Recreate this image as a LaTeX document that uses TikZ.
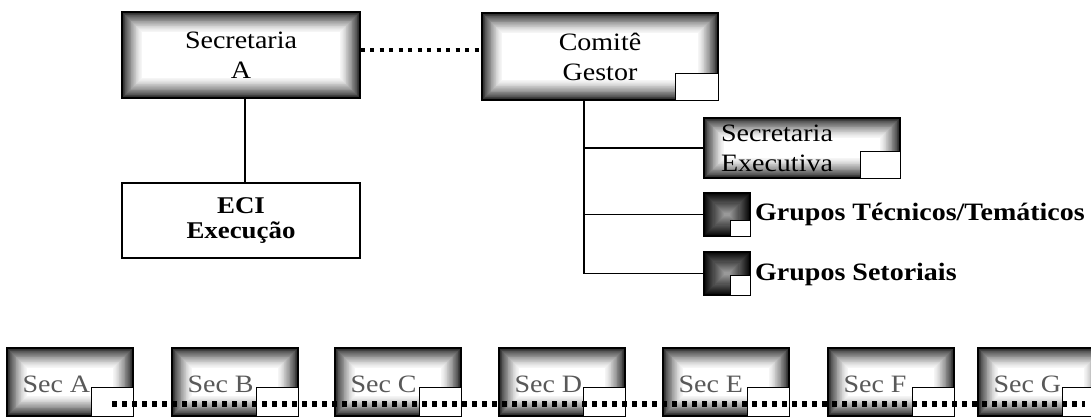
\documentclass[tikz,border=0pt]{standalone}
\usepackage{fontspec}
\setmainfont{Liberation Serif}[FakeStretch=1.12]
\tikzset{
  glowbox/.style={draw=black, line width=1.4pt, inner sep=0pt, path picture={
    \foreach \k in {0,...,25}{
      \pgfmathtruncatemacro\c{85*(1-\k/25)^1.4}
      \pgfmathsetmacro\d{0.85*\k}
      \fill[black!\c] ([xshift=\d pt,yshift=-\d pt]path picture bounding box.north west) rectangle ([xshift=-\d pt,yshift=\d pt]path picture bounding box.south east);
    }}},
  darkbox/.style={draw=black, line width=1.4pt, inner sep=0pt, path picture={
    \foreach \k in {0,...,19}{
      \pgfmathtruncatemacro\c{97-3*\k}
      \pgfmathsetmacro\d{1.05*\k}
      \fill[black!\c] ([xshift=\d pt,yshift=-\d pt]path picture bounding box.north west) rectangle ([xshift=-\d pt,yshift=\d pt]path picture bounding box.south east);
    }}},
  plainbox/.style={draw=black, line width=1.4pt, fill=white, inner sep=0pt},
  tab/.style={draw=black, line width=1pt, fill=white},
  conn/.style={draw=black, line width=1.5pt},
  topdots/.style={draw=black, line width=4pt, dash pattern=on 4pt off 5.5pt},
  botdots/.style={draw=black, line width=5.5pt, dash pattern=on 5pt off 5pt},
  txt/.style={font=\fontsize{25}{30}\selectfont, align=center},
  bold/.style={font=\fontsize{25}{30}\selectfont\bfseries, inner sep=0pt, anchor=base west},
  sectxt/.style={font=\fontsize{25}{30}\selectfont, text=black!65, inner sep=0pt, anchor=base west},
}
\begin{document}
\begin{tikzpicture}[x=1pt,y=-1pt]
\useasboundingbox (0,0) rectangle (1091,416);

% top level
\node[glowbox, txt, minimum width=238pt, minimum height=86pt] (secA) at (241,55) {Secretaria\\A};
\node[glowbox, txt, minimum width=236pt, minimum height=87pt] (comite) at (600,56.5) {Comitê\\Gestor};
\draw[tab] ([shift={(-43,-27)}]comite.south east) rectangle (comite.south east);
\node[plainbox, font=\fontsize{24}{25}\selectfont\bfseries, align=center, minimum width=238pt, minimum height=75pt] (eci) at (241,220.5) {ECI\\Execução};

% comite branches
\node[glowbox, font=\fontsize{25}{30}\selectfont, align=left, text width=162pt, inner xsep=17pt, minimum height=60pt] (secex) at (802,148) {Secretaria\\Executiva};
\draw[tab] ([shift={(-40,-27)}]secex.south east) rectangle (secex.south east);
\node[darkbox, minimum width=46pt, minimum height=43pt] (gt) at (727,214.5) {};
\draw[tab] ([shift={(-20,-16)}]gt.south east) rectangle (gt.south east);
\node[darkbox, minimum width=46pt, minimum height=43pt] (gs) at (727,273.5) {};
\draw[tab] ([shift={(-20,-20)}]gs.south east) rectangle (gs.south east);
\node[bold] (gtl) at (755,220) {Grupos Técnicos/Temáticos};
\node[bold] (gsl) at (755,280) {Grupos Setoriais};

% connectors
\draw[topdots] ([yshift=5pt]secA.east) -- ([yshift=5pt]secA.east -| comite.west);
\draw[conn] ([xshift=4pt]secA.south) -- ([xshift=4pt]eci.north);
\coordinate (trunk) at ([xshift=-16pt]comite.south);
\draw[conn] (trunk) |- (gs.west);
\draw[conn] (trunk |- secex.west) -- (secex.west);
\draw[conn] (trunk |- gt.west) -- (gt.west);

% bottom row
\foreach \n/\x/\l in {a/70/A, b/235/B, c/398/C, d/562/D, e/726/E, f/891/F, g/1041/G}{
  \node[glowbox, minimum width=126pt, minimum height=68pt] (sec\n) at (\x,382) {};
  \draw[tab] ([shift={(-42,40)}]sec\n.north east) rectangle (sec\n.south east);
  \node[sectxt] (sec\n t) at ([shift={(16,45)}]sec\n.north west) {Sec \l};
}
\coordinate (dA) at (112,404);
\coordinate (dG) at (1085,404);
\draw[botdots] (dA) -- (dG);
\end{tikzpicture}
\end{document}
